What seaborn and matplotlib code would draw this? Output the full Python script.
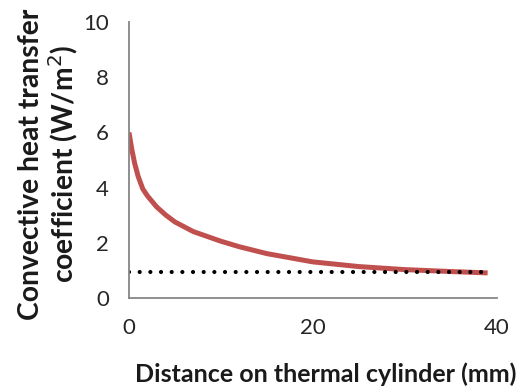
import matplotlib
matplotlib.use("Agg")
import matplotlib.pyplot as plt
import seaborn as sns
import pandas as pd

# valori
distance_mm = [0, 0.3, 0.6, 1, 1.5, 2, 3, 4, 5, 7, 10, 12, 15, 20, 25, 30, 35, 39]
h_coeff = [6.0, 5.4, 4.9, 4.4, 3.95, 3.7, 3.3, 3.0, 2.75, 2.4, 2.05, 1.85, 1.6, 1.3, 1.13, 1.02, 0.95, 0.9]
ref_x = [0, 38.7]
ref_h = [0.93, 0.93]

sns.set_style("white")
plt.rcParams['font.family'] = ['Lato', 'DejaVu Sans']

fig = plt.figure(figsize=(5.17, 3.89), dpi=100)
ax = fig.add_axes([0.2495, 0.2347, 0.7115, 0.708])

df = pd.DataFrame({'x': distance_mm, 'h': h_coeff})
sns.lineplot(data=df, x='x', y='h', ax=ax, color='#C0504D', linewidth=3.6,
             solid_capstyle='butt')
ax.plot(ref_x, ref_h, color='black', linewidth=3,
        linestyle=(0, (0.01, 2.55)), dash_capstyle='round')

ax.set_xlim(0, 40)
ax.set_ylim(0, 10)
ax.set_xticks([0, 20, 40])
ax.set_yticks([0, 2, 4, 6, 8, 10])

grey = '#868686'
for s in ['top', 'right']:
    ax.spines[s].set_visible(False)
for s in ['left', 'bottom']:
    ax.spines[s].set_color(grey)
    ax.spines[s].set_linewidth(1.3)
ax.tick_params(axis='both', which='both', direction='out', length=6.5, width=1.3,
               color=grey, labelsize=16, labelcolor='#262626')
ax.tick_params(axis='x', pad=8)
ax.tick_params(axis='y', pad=8)

ax.set_xlabel('Distance on thermal cylinder (mm)', fontsize=18, fontweight='bold',
              color='#1a1a1a')
ax.xaxis.set_label_coords(0.535, -0.235)
ax.set_ylabel('Convective heat transfer\ncoefficient (W/m$^2$)', fontsize=20.3,
              fontweight='bold', color='#1a1a1a', linespacing=1.08)
ax.yaxis.set_label_coords(-0.132, 0.485)

fig.savefig('out.png', dpi=100)
